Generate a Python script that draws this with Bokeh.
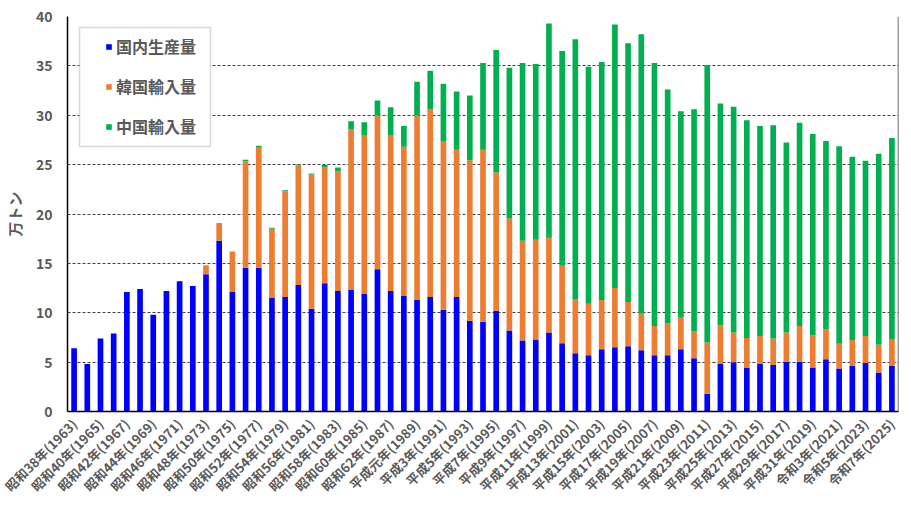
from math import pi
from bokeh.plotting import figure
from bokeh.models import (ColumnDataSource, FixedTicker, Range1d, Span, Legend, LegendItem,
                          BoxAnnotation)
from bokeh.embed import file_html
from bokeh.resources import INLINE

years = list(range(1963, 2026))

domestic = [6.4, 4.8, 7.4, 7.9, 12.1, 12.4, 9.8, 12.2, 13.2, 12.7,
            13.9, 17.3, 12.1, 14.55, 14.55, 11.5, 11.6, 12.8, 10.4, 13.0,
            12.2, 12.3, 11.9, 14.4, 12.2, 11.7, 11.3, 11.6, 10.3, 11.6,
            9.2, 9.1, 10.2, 8.2, 7.2, 7.3, 8.0, 6.9, 5.9, 5.7,
            6.3, 6.5, 6.6, 6.2, 5.7, 5.7, 6.3, 5.4, 1.8, 4.8,
            5.0, 4.4, 4.8, 4.7, 5.05, 5.05, 4.45, 5.3, 4.35, 4.6,
            4.9, 3.95, 4.6]

korea = [0, 0, 0, 0, 0, 0, 0, 0, 0, 0,
         0.9, 1.8, 4.1, 10.8, 12.15, 7.0, 10.7, 12.2, 13.6, 11.7,
         12.1, 16.3, 16.1, 15.6, 15.8, 15.1, 18.7, 19.0, 17.1, 14.9,
         16.25, 17.4, 14.0, 11.35, 10.1, 10.1, 9.6, 7.85, 5.5, 5.2,
         5.0, 6.0, 4.5, 3.7, 2.95, 3.2, 3.2, 2.7, 5.2, 3.9,
         3.0, 3.05, 2.85, 2.7, 2.95, 3.6, 3.25, 3.0, 2.5, 2.65,
         2.75, 2.8, 2.75]

china = [0, 0, 0, 0, 0, 0, 0, 0, 0, 0,
         0, 0, 0, 0.15, 0.2, 0.1, 0.1, 0.05, 0.1, 0.3,
         0.4, 0.8, 1.3, 1.5, 2.8, 2.1, 3.4, 3.9, 5.8, 5.9,
         6.55, 8.8, 12.4, 15.25, 18.0, 17.8, 21.7, 21.75, 26.3, 24.0,
         24.1, 26.7, 26.2, 28.3, 26.65, 23.7, 20.9, 22.5, 28.1, 22.5,
         22.85, 22.05, 21.25, 21.6, 19.25, 20.6, 20.4, 19.1, 20.0, 18.55,
         17.75, 19.35, 20.35]

series_names = ["国内生産量", "韓国輸入量", "中国輸入量"]
series_colors = ["#0000FF", "#ED7D31", "#00B050"]

tick_years = list(range(1963, 2026, 2))
tick_labels = ["昭和38年(1963)", "昭和40年(1965)", "昭和42年(1967)", "昭和44年(1969)",
               "昭和46年(1971)", "昭和48年(1973)", "昭和50年(1975)", "昭和52年(1977)",
               "昭和54年(1979)", "昭和56年(1981)", "昭和58年(1983)", "昭和60年(1985)",
               "昭和62年(1987)", "平成元年(1989)", "平成3年(1991)", "平成5年(1993)",
               "平成7年(1995)", "平成9年(1997)", "平成11年(1999)", "平成13年(2001)",
               "平成15年(2003)", "平成17年(2005)", "平成19年(2007)", "平成21年(2009)",
               "平成23年(2011)", "平成25年(2013)", "平成27年(2015)", "平成29年(2017)",
               "平成31年(2019)", "令和3年(2021)", "令和5年(2023)", "令和7年(2025)"]

y_ticks = [0, 5, 10, 15, 20, 25, 30, 35, 40]
y_title = "万トン"

FONT = "Noto Sans CJK JP"
TXT = "#595959"

idx = list(range(len(years)))
source = ColumnDataSource(dict(x=idx, domestic=domestic, korea=korea, china=china))

W, H = 905, 505
p = figure(width=W, height=H, output_backend="svg", toolbar_location=None,
           x_range=Range1d(-0.5, len(years) - 0.5), y_range=Range1d(0, 40),
           min_border_left=63, min_border_right=7, min_border_top=16, min_border_bottom=92)
p.outline_line_color = None

renderers = p.vbar_stack(["domestic", "korea", "china"], x="x", width=0.43, source=source,
                         color=series_colors, line_color=None)

# grid
p.xgrid.grid_line_color = None
p.ygrid.grid_line_color = "#404040"
p.ygrid.grid_line_dash = "3 2"
p.ygrid.grid_line_width = 1

# y axis
p.yaxis.ticker = FixedTicker(ticks=y_ticks)
p.yaxis.major_tick_line_color = None
p.yaxis.minor_tick_line_color = None
p.yaxis.axis_line_color = "black"
p.yaxis.axis_line_width = 1.5
p.yaxis.major_label_text_font = FONT
p.yaxis.major_label_text_font_size = "14px"
p.yaxis.major_label_text_font_style = "bold"
p.yaxis.major_label_text_color = TXT
p.yaxis.major_label_standoff = 9
p.yaxis.axis_label = y_title
p.yaxis.axis_label_text_font = FONT
p.yaxis.axis_label_text_font_size = "15px"
p.yaxis.axis_label_text_font_style = "bold"
p.yaxis.axis_label_text_color = TXT
p.yaxis.axis_label_standoff = 8

# x axis
p.xaxis.ticker = FixedTicker(ticks=[years.index(y) for y in tick_years])
p.xaxis.major_label_overrides = {years.index(y): lab for y, lab in zip(tick_years, tick_labels)}
p.xaxis.major_label_orientation = pi / 4
p.xaxis.major_tick_line_color = None
p.xaxis.minor_tick_line_color = None
p.xaxis.axis_line_color = "black"
p.xaxis.axis_line_width = 1.5
p.xaxis.major_label_text_font = FONT
p.xaxis.major_label_text_font_size = "13px"
p.xaxis.major_label_text_font_style = "bold"
p.xaxis.major_label_text_color = TXT
p.xaxis.major_label_standoff = 4

# right border
p.add_layout(Span(location=len(years) - 0.5, dimension="height",
                  line_color="#404040", line_width=1.5))

# legend frame (canvas units, measured from the top-left corner)
legend_box = BoxAnnotation(left=79, right=210, top=27, bottom=146,
                           left_units="canvas", right_units="canvas",
                           top_units="canvas", bottom_units="canvas",
                           fill_color="white", fill_alpha=1,
                           line_color="#808080", line_width=1.5)
p.add_layout(legend_box)

legend = Legend(items=[LegendItem(label=n, renderers=[r]) for n, r in zip(series_names, renderers)],
                location=(38, 273), margin=0)
legend.border_line_color = None
legend.background_fill_alpha = 0
legend.label_text_font = FONT
legend.label_text_font_size = "16px"
legend.label_text_font_style = "bold"
legend.label_text_color = TXT
legend.glyph_width = 7
legend.glyph_height = 7
legend.label_standoff = 4
legend.spacing = 16
legend.padding = 0
legend.label_height = 20
p.add_layout(legend)

open("out.html", "w").write(file_html(p, INLINE))
